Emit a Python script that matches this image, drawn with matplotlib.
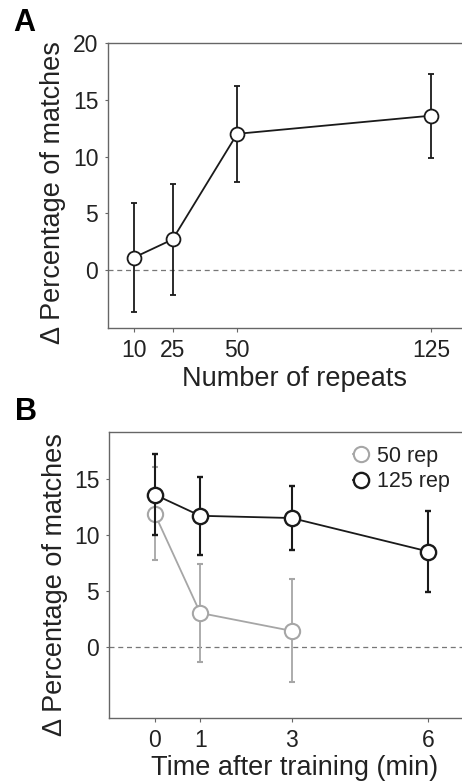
import matplotlib
matplotlib.use("Agg")
import matplotlib.pyplot as plt

plt.rcParams["font.family"] = ["Liberation Sans", "DejaVu Sans"]

# panel A: effect of number of repeats
repeats = [10, 25, 50, 125]
repeat_mean = [1.1, 2.7, 12.0, 13.6]
repeat_err = [4.8, 4.9, 4.2, 3.7]

# panel B: retention after training
times_50 = [0, 1, 3]
mean_50 = [11.9, 3.0, 1.4]
err_50 = [4.2, 4.4, 4.6]

times_125 = [0, 1, 3, 6]
mean_125 = [13.6, 11.7, 11.5, 8.5]
err_125 = [3.6, 3.5, 2.9, 3.6]

W, H = 462, 783
SPINE = "#666666"
DARK = "#1a1a1a"
GREY = "#a6a6a6"
TEXT = "#222222"
YLABEL = "\u0394 Percentage of matches"


def style_axes(ax):
    ax.spines["right"].set_visible(False)
    for side in ["left", "top", "bottom"]:
        ax.spines[side].set_color(SPINE)
        ax.spines[side].set_linewidth(1.0)
    ax.tick_params(axis="x", direction="out", length=3, color=SPINE,
                   labelsize=16.5, pad=5, labelcolor=TEXT)
    ax.tick_params(axis="y", direction="out", length=2, color=SPINE,
                   labelsize=16.5, pad=5, labelcolor=TEXT)
    ax.axhline(0, color="#777777", lw=0.9, ls=(0, (4, 3)), zorder=1)


fig = plt.figure(figsize=(W / 100, H / 100), dpi=100)

# ----- panel A -----
axA = fig.add_axes([108 / W, 1 - 328 / H, (480 - 108) / W, (328 - 43) / H])
style_axes(axA)
axA.errorbar(repeats, repeat_mean, yerr=repeat_err, color=DARK, lw=1.3,
             elinewidth=1.3, capsize=2.5, capthick=1.2, marker="o",
             markersize=10, markerfacecolor="white", markeredgecolor=DARK,
             markeredgewidth=1.3, zorder=3)
axA.set_xlim(0, 144)
axA.set_ylim(-5.1, 20)
axA.set_xticks(repeats)
axA.set_yticks([0, 5, 10, 15, 20])
axA.set_xlabel("Number of repeats", fontsize=19.5, labelpad=3, color=TEXT)
axA.set_ylabel(YLABEL, fontsize=19.5, color=TEXT)
axA.yaxis.set_label_coords(-0.112, 0.475)

# ----- panel B -----
axB = fig.add_axes([109 / W, 1 - 718 / H, (480 - 109) / W, (718 - 432) / H])
style_axes(axB)
axB.errorbar(times_50, mean_50, yerr=err_50, color=GREY, lw=1.3,
             elinewidth=1.3, capsize=2.5, capthick=1.2, marker="o",
             markersize=11, markerfacecolor="white", markeredgecolor=GREY,
             markeredgewidth=1.5, zorder=3, label="50 rep")
axB.errorbar(times_125, mean_125, yerr=err_125, color=DARK, lw=1.3,
             elinewidth=1.5, capsize=2.5, capthick=1.4, marker="o",
             markersize=11, markerfacecolor="white", markeredgecolor=DARK,
             markeredgewidth=1.7, zorder=4, label="125 rep")
axB.set_xlim(-1, 7.13)
axB.set_ylim(-6.4, 19.2)
axB.set_xticks([0, 1, 3, 6])
axB.set_yticks([0, 5, 10, 15])
axB.set_xlabel("Time after training (min)", fontsize=19.5, labelpad=2,
               color=TEXT)
axB.set_ylabel(YLABEL, fontsize=19.5, color=TEXT)
axB.yaxis.set_label_coords(-0.11, 0.465)

handles, labels = axB.get_legend_handles_labels()
handles = [h[0] for h in handles]
axB.legend(handles, labels, loc="upper left", bbox_to_anchor=(0.62, 1.0),
           frameon=False, fontsize=15.5, handlelength=0.7, handletextpad=0.4,
           labelspacing=0.2, borderaxespad=0.25, markerscale=1.0,
           labelcolor=TEXT)

fig.text(13 / W, 1 - 23 / H, "A", fontsize=22, fontweight="bold", va="center")
fig.text(15 / W, 1 - 412 / H, "B", fontsize=22, fontweight="bold", va="center")

fig.savefig("out.png", dpi=100)
